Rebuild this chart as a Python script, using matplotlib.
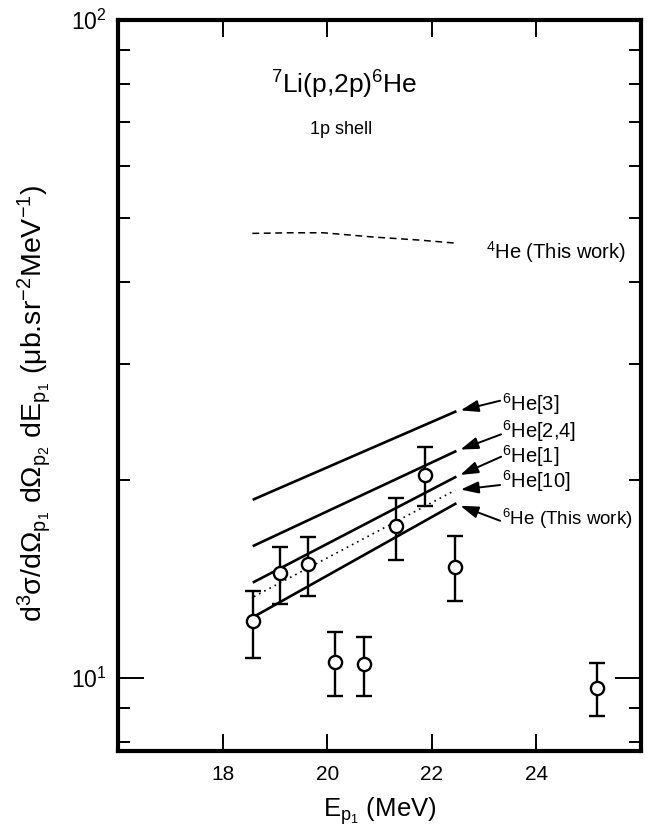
import matplotlib
matplotlib.use("Agg")
import matplotlib.pyplot as plt
from matplotlib.ticker import LogLocator, NullFormatter

plt.rcParams['font.family'] = ['Liberation Sans', 'DejaVu Sans']
plt.rcParams['mathtext.fontset'] = 'custom'
plt.rcParams['mathtext.rm'] = 'Liberation Sans'
plt.rcParams['mathtext.it'] = 'Liberation Sans'
plt.rcParams['mathtext.bf'] = 'Liberation Sans:bold'

# experimental points (6He, 1p shell)
E_exp = [18.58, 19.09, 19.63, 20.15, 20.71, 21.31, 21.88, 22.44, 25.17]
sig_exp = [12.2, 14.45, 14.9, 10.6, 10.5, 17.0, 20.35, 14.75, 9.65]
sig_lo = [10.75, 12.95, 13.35, 9.4, 9.4, 15.1, 18.25, 13.1, 8.75]
sig_hi = [13.55, 15.8, 16.4, 11.75, 11.55, 18.75, 22.45, 16.45, 10.55]

# calculations
E_line = [18.6, 22.45]
he6_3 = [18.7, 25.4]
he6_24 = [15.9, 22.1]
he6_1 = [14.0, 20.2]
he6_10 = [13.3, 19.3]
he6_this = [12.4, 18.4]

E_he4 = [18.57, 19.3, 19.93, 20.88, 21.77, 22.47]
he4_this = [47.4, 47.5, 47.5, 46.8, 46.3, 45.8]

xticks = [18, 20, 22, 24]

fig = plt.figure(figsize=(6.54, 8.33), dpi=100)
ax = fig.add_axes([0.1804, 0.0984, 0.7995, 0.8776])

ax.plot(E_line, he6_3, color='black', lw=1.9)
ax.plot(E_line, he6_24, color='black', lw=1.9)
ax.plot(E_line, he6_1, color='black', lw=1.9)
ax.plot(E_line, he6_10, color='black', lw=1.2, linestyle=(0, (1, 2.5)))
ax.plot(E_line, he6_this, color='black', lw=1.9)
ax.plot(E_he4, he4_this, color='black', lw=1.1, linestyle=(0, (4.5, 3)))

yerr = [[s - l for s, l in zip(sig_exp, sig_lo)],
        [h - s for s, h in zip(sig_exp, sig_hi)]]
ax.errorbar(E_exp, sig_exp, yerr=yerr, fmt='o', mfc='white', mec='black',
            mew=1.7, ms=9.5, ecolor='black', elinewidth=1.7, capsize=6,
            capthick=1.7, zorder=5)

ax.set_yscale('log')
ax.set_xlim(16, 26)
ax.set_ylim(7.75, 100)
ax.set_xticks(xticks)
ax.yaxis.set_major_locator(LogLocator(base=10))
ax.yaxis.set_minor_locator(LogLocator(base=10, subs=range(2, 10)))
ax.yaxis.set_minor_formatter(NullFormatter())

ax.tick_params(which='both', direction='in', top=True, right=True, width=1.4)
ax.tick_params(axis='x', which='major', length=12, labelsize=15, pad=10)
ax.tick_params(axis='y', which='major', length=19, labelsize=16.5, pad=8)
ax.tick_params(axis='y', which='minor', length=8.5)
for sp in ax.spines.values():
    sp.set_linewidth(3.0)

ax.set_xlabel(r'E$_{\mathrm{p}_1}$ (MeV)', fontsize=18.5, labelpad=8)
ax.set_ylabel(r'd$^3$σ/dΩ$_{\mathrm{p}_1}$ dΩ$_{\mathrm{p}_2}$ dE$_{\mathrm{p}_1}$ (μb.sr$^{-2}$MeV$^{-1}$)',
              fontsize=20.5)
ax.yaxis.set_label_coords(-0.125, 0.476)

ax.text(0.432, 0.899, r'$^{7}$Li(p,2p)$^{6}$He', transform=ax.transAxes,
        ha='center', va='baseline', fontsize=19)
ax.text(0.427, 0.844, '1p shell', transform=ax.transAxes,
        ha='center', va='baseline', fontsize=13)
ax.text(0.704, 0.674, r'$^{4}$He (This work)', transform=ax.transAxes,
        ha='left', va='baseline', fontsize=14.5)

# labels with arrows pointing at the line ends
labels = [r'$^{6}$He[3]', r'$^{6}$He[2,4]', r'$^{6}$He[1]', r'$^{6}$He[10]',
          r'$^{6}$He (This work)']
ends = [he6_3[-1], he6_24[-1], he6_1[-1], he6_10[-1], he6_this[-1]]
tails = [(0.7308, 0.4792), (0.7327, 0.4332), (0.7327, 0.4026),
         (0.7308, 0.3639), (0.7308, 0.3150)]
bases = [0.4651, 0.4278, 0.3944, 0.3602, 0.3092]
sizes = [14.5, 14.5, 14.5, 14.5, 13.5]
for lab, yend, tail, base, fs in zip(labels, ends, tails, bases, sizes):
    ax.annotate('', xy=(E_line[-1], yend), xycoords='data',
                xytext=tail, textcoords='axes fraction',
                arrowprops=dict(arrowstyle='-|>,head_length=0.9,head_width=0.3',
                                mutation_scale=12, color='black', lw=1.4,
                                shrinkA=0, shrinkB=4))
    ax.text(0.735, base, lab, transform=ax.transAxes, ha='left',
            va='baseline', fontsize=fs)

fig.savefig('out.png', dpi=100)
